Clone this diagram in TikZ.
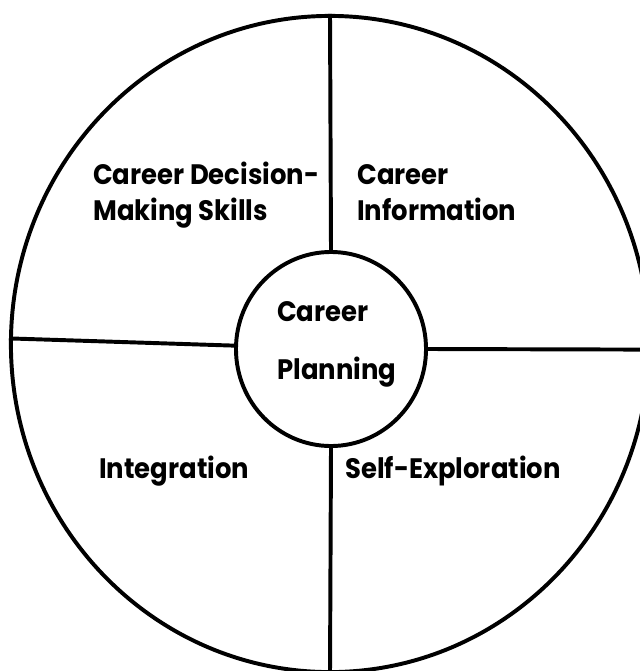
\documentclass[tikz,border=0pt]{standalone}
\usepackage{fontspec}
\setmainfont{Poppins}[FakeStretch=0.92]
\usetikzlibrary{shapes.geometric}
\tikzset{
  ring/.style={
    ellipse,
    draw=black,
    line width=2.8pt,
    inner sep=0pt
  },
  divider/.style={
    line width=2.8pt,
    draw=black
  },
  sectortext/.style={
    anchor=base west,
    inner sep=0pt,
    font=\fontsize{20}{24}\selectfont\bfseries
  }
}

\begin{document}
\begin{tikzpicture}[x=0.025cm, y=-0.025cm]
  \useasboundingbox (0,0) rectangle (639,671);

  \node[ring, minimum width=15.95cm, minimum height=16.4cm] (wheel) at (330,344) {};
  \node[ring, minimum width=4.75cm, minimum height=4.85cm] (hub) at (331,349) {};

  \draw[divider] (wheel.north) -- (hub.north);
  \draw[divider] (hub.south) -- (wheel.south);
  \draw[divider] (wheel.179) -- (hub.178);
  \draw[divider] (hub.east) -- (wheel.359);

  \node[sectortext] (decision) at (93,184) {Career Decision-};
  \node[sectortext] (making) at (93,220) {Making Skills};
  \node[sectortext] (career) at (357,184) {Career};
  \node[sectortext] (information) at (357,220) {Information};
  \node[sectortext] (hubtop) at (277,321) {Career};
  \node[sectortext] (hubbottom) at (277,379) {Planning};
  \node[sectortext] (integration) at (99,478) {Integration};
  \node[sectortext] (self) at (345,478) {Self-Exploration};
\end{tikzpicture}
\end{document}
